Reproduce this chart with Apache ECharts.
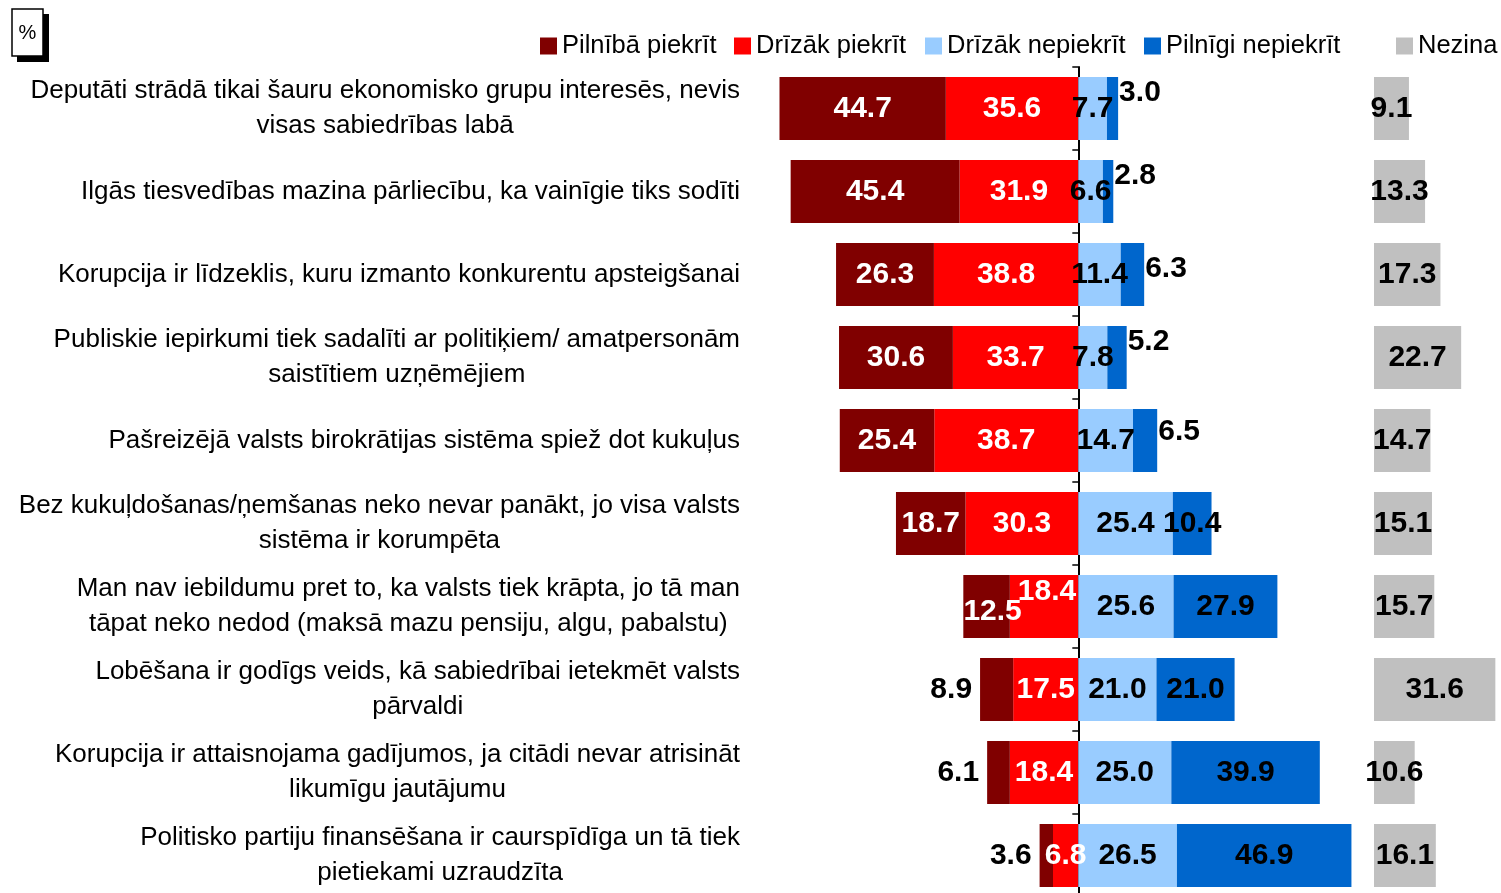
<!DOCTYPE html>
<html>
<head>
<meta charset="utf-8">
<title>Korupcija</title>
<script src="https://cdn.jsdelivr.net/npm/echarts@6.0.0/dist/echarts.min.js"></script>
<style>
  html, body { margin: 0; padding: 0; background: #fff; }
  #chart { width: 1501px; height: 893px; }
</style>
</head>
<body>
<div id="chart"></div>
<script>
// kategorijas (rindas no augšas uz leju)
const kategorijas = [
  'Deputāti strādā tikai šauru ekonomisko grupu interesēs, nevis\nvisas sabiedrības labā',
  'Ilgās tiesvedības mazina pārliecību, ka vainīgie tiks sodīti',
  'Korupcija ir līdzeklis, kuru izmanto konkurentu apsteigšanai',
  'Publiskie iepirkumi tiek sadalīti ar politiķiem/ amatpersonām\nsaistītiem uzņēmējiem',
  'Pašreizējā valsts birokrātijas sistēma spiež dot kukuļus',
  'Bez kukuļdošanas/ņemšanas neko nevar panākt, jo visa valsts\nsistēma ir korumpēta',
  'Man nav iebildumu pret to, ka valsts tiek krāpta, jo tā man\ntāpat neko nedod (maksā mazu pensiju, algu, pabalstu)',
  'Lobēšana ir godīgs veids, kā sabiedrībai ietekmēt valsts\npārvaldi',
  'Korupcija ir attaisnojama gadījumos, ja citādi nevar atrisināt\nlikumīgu jautājumu',
  'Politisko partiju finansēšana ir caurspīdīga un tā tiek\npietiekami uzraudzīta'
];

const pilnibaPiekrit   = [44.7, 45.4, 26.3, 30.6, 25.4, 18.7, 12.5, 8.9, 6.1, 3.6];
const drizakPiekrit    = [35.6, 31.9, 38.8, 33.7, 38.7, 30.3, 18.4, 17.5, 18.4, 6.8];
const drizakNepiekrit  = [7.7, 6.6, 11.4, 7.8, 14.7, 25.4, 25.6, 21.0, 25.0, 26.5];
const pilnigiNepiekrit = [3.0, 2.8, 6.3, 5.2, 6.5, 10.4, 27.9, 21.0, 39.9, 46.9];
const nezina           = [9.1, 13.3, 17.3, 22.7, 14.7, 15.1, 15.7, 31.6, 10.6, 16.1];

const legendNames = ['Pilnībā piekrīt', 'Drīzāk piekrīt', 'Drīzāk nepiekrīt', 'Pilnīgi nepiekrīt', 'Nezina'];
const colors = ['#800000', '#FF0000', '#99CCFF', '#0066CC', '#C0C0C0'];

const font = 'Arial, "Liberation Sans", sans-serif';
const fmt = p => Math.abs(p.value).toFixed(1);
const valueLabel = (color) => ({
  show: true, position: 'inside', formatter: fmt,
  color: color, fontFamily: font, fontWeight: 'bold', fontSize: 30
});

// Excel mazās vērtības liek ārpus stabiņa, nedaudz uz augšu
const outerShiftY = [-16, -16, -6, -16, -9];

const darkRedData = pilnibaPiekrit.map((v, i) => {
  const d = { value: -v };
  if (v < 10) d.label = { position: 'left', distance: 8, color: '#000' };
  if (i === 6) d.label = { offset: [6, 5] };
  return d;
});
const redData = drizakPiekrit.map((v, i) => {
  const d = { value: -v };
  if (i === 6) d.label = { offset: [3, -15] };
  return d;
});
const blueData = pilnigiNepiekrit.map((v, i) => {
  const d = { value: v };
  if (v < 7) d.label = { position: 'right', distance: 1, offset: [0, outerShiftY[i] || 0] };
  return d;
});

const myChart = echarts.init(document.getElementById('chart'));

const option = {
  animation: false,
  grid: [
    { left: 762, width: 614, top: 67, height: 830, containLabel: false, outerBoundsMode: 'none' },
    { left: 1374, width: 134.4, top: 67, height: 830, containLabel: false, outerBoundsMode: 'none' }
  ],
  legend: legendNames.map((n, i) => ({
    data: [n],
    left: [540, 734, 925, 1144, 1396][i],
    top: 33,
    padding: 0,
    icon: 'rect',
    itemWidth: 17,
    itemHeight: 17,
    selectedMode: false,
    textStyle: { fontFamily: font, fontSize: 25.5, lineHeight: 26, color: '#000' }
  })),
  xAxis: [
    { type: 'value', gridIndex: 0, min: -85, max: 80, show: false },
    { type: 'value', gridIndex: 1, min: 0, max: 35, show: false }
  ],
  yAxis: [
    {
      type: 'category', gridIndex: 0, inverse: true, data: kategorijas,
      axisLine: { onZero: true, lineStyle: { color: '#000', width: 2 } },
      axisTick: { show: true, length: 6, lineStyle: { color: '#000', width: 1.5 } },
      axisLabel: {
        margin: 22,
        formatter: v => v.split('\n').map(s => '{c|' + s + '}').join('\n'),
        rich: {
          c: { align: 'center', fontFamily: font, fontSize: 26, lineHeight: 35, color: '#000' }
        }
      },
      z: 1
    },
    { type: 'category', gridIndex: 1, inverse: true, data: kategorijas, show: false }
  ],
  series: [
    {
      name: 'Drīzāk piekrīt', type: 'bar', stack: 'a', barWidth: 63,
      itemStyle: { color: colors[1] }, label: valueLabel('#fff'), data: redData
    },
    {
      name: 'Pilnībā piekrīt', type: 'bar', stack: 'a', barWidth: 63,
      itemStyle: { color: colors[0] }, label: valueLabel('#fff'), data: darkRedData
    },
    {
      name: 'Drīzāk nepiekrīt', type: 'bar', stack: 'a', barWidth: 63,
      itemStyle: { color: colors[2] }, label: valueLabel('#000'), data: drizakNepiekrit
    },
    {
      name: 'Pilnīgi nepiekrīt', type: 'bar', stack: 'a', barWidth: 63,
      itemStyle: { color: colors[3] }, label: valueLabel('#000'), data: blueData
    },
    {
      name: 'Nezina', type: 'bar', xAxisIndex: 1, yAxisIndex: 1, barWidth: 63,
      itemStyle: { color: colors[4] }, label: valueLabel('#000'), data: nezina
    }
  ],
  graphic: [
    { type: 'rect', shape: { x: 17, y: 14, width: 32, height: 48 }, style: { fill: '#000' } },
    { type: 'rect', shape: { x: 12, y: 9, width: 31, height: 47 }, style: { fill: '#fff', stroke: '#000', lineWidth: 1.5 } },
    { type: 'text', x: 27.5, y: 33, style: { text: '%', font: '20px ' + font, fill: '#000', align: 'center', verticalAlign: 'middle' } }
  ]
};

myChart.setOption(option);

window.addEventListener('resize', function () {
  myChart.resize();
});
</script>
</body>
</html>
